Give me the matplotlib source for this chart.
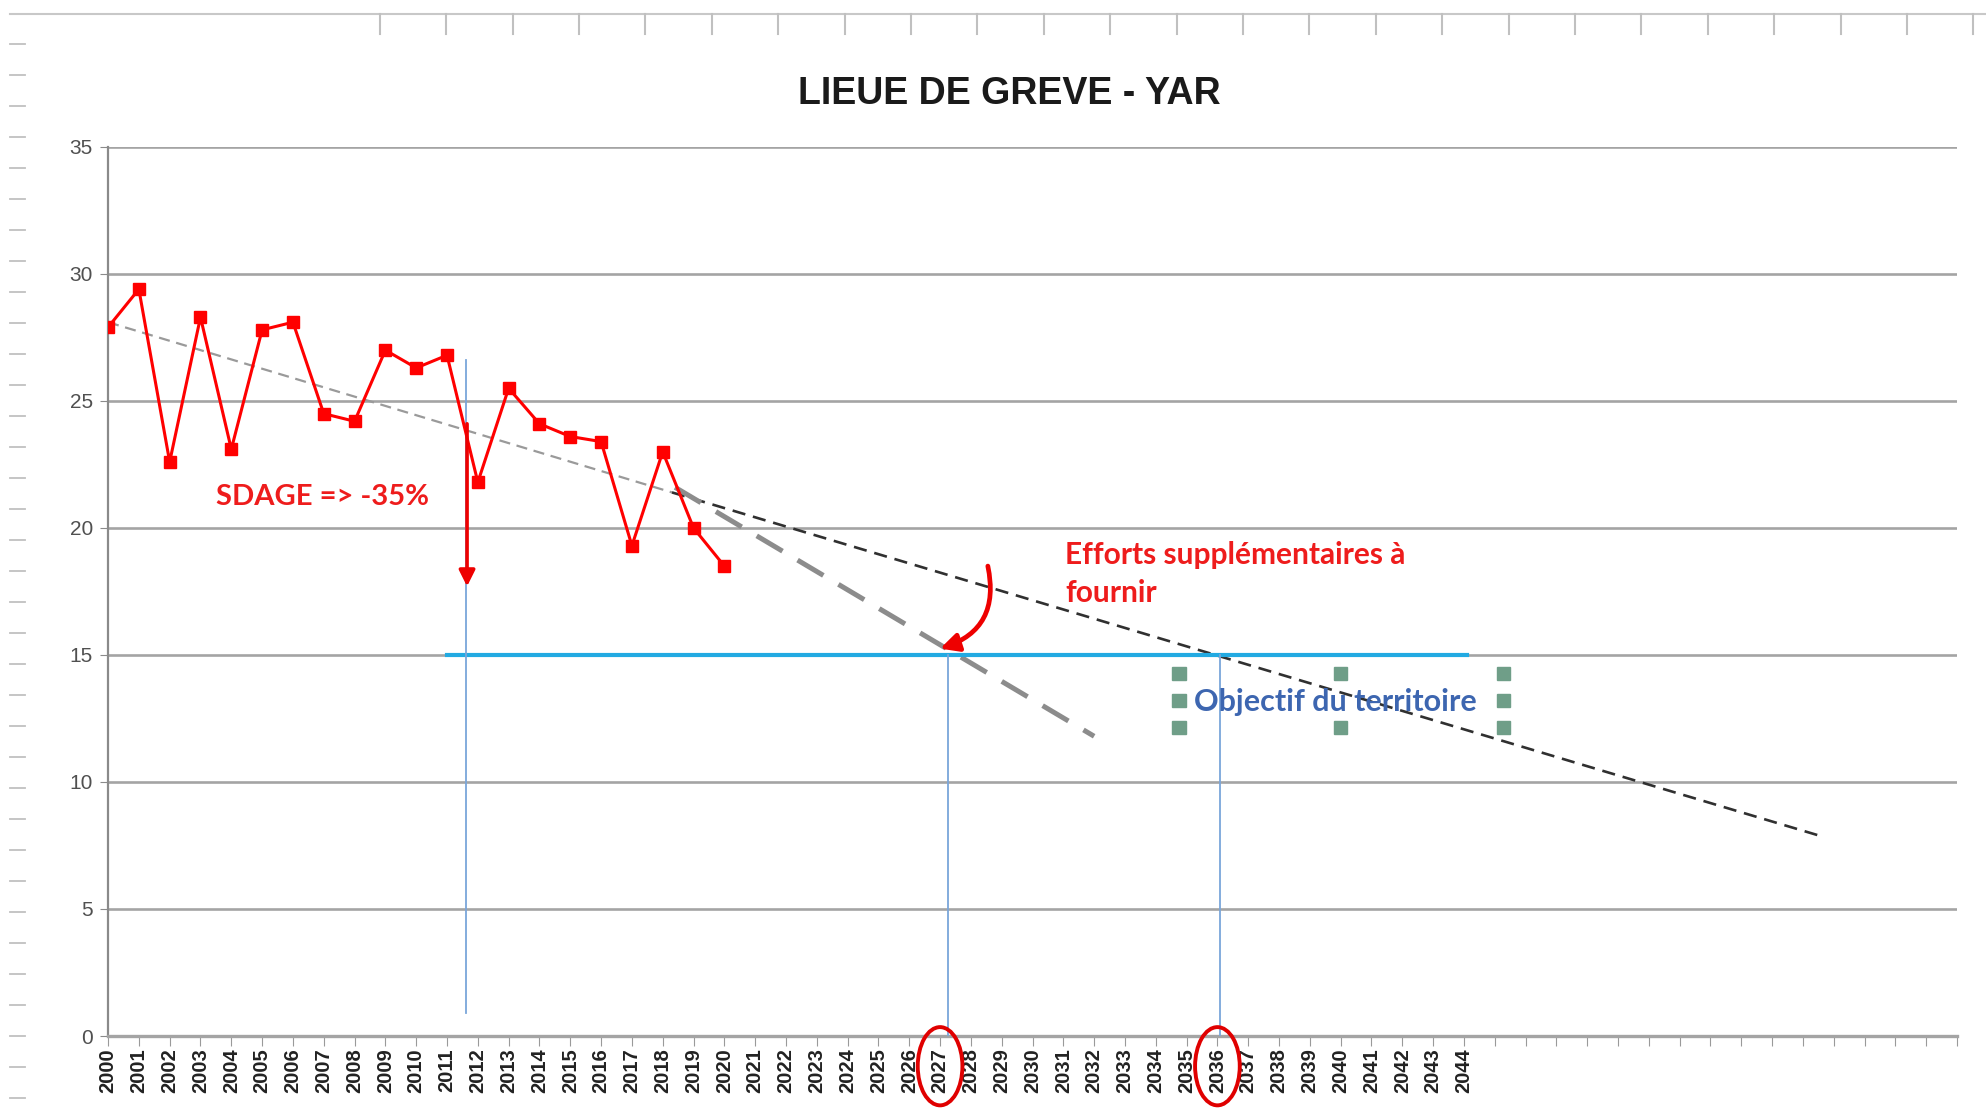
import numpy as np
import matplotlib.pyplot as plt
from matplotlib.patches import Ellipse, Rectangle
from matplotlib.lines import Line2D
from matplotlib.transforms import blended_transform_factory

# measured values (position index 0 = 2000)
years = list(range(2000, 2021))
values = [27.9, 29.4, 22.6, 28.3, 23.1, 27.8, 28.1, 24.5, 24.2, 27.0,
          26.3, 26.8, 21.8, 25.5, 24.1, 23.6, 23.4, 19.3, 23.0, 20.0, 18.5]
tick_labels = [str(y) for y in range(2000, 2045)]
n_slots = 60

trend_x = [0, 18.3, 55.5]
trend_y = [28.1, 21.4, 7.9]
steep_x = [18.4, 32.0]
steep_y = [21.6, 11.8]
target = 15
target_span = [11.0, 44.1]
drop_x = 11.65
drop_y = [24.1, 17.7]
vlines = [(11.6, 0.9, 26.6), (27.25, 0, 15), (36.1, 0, 15)]
circled = [27, 36]


def main():
    fig = plt.figure(figsize=(19.86, 11.2), dpi=100)
    ax = fig.add_axes([0.0544, 0.075, 0.9310, 0.7938])

    grid_c = '#a4a4a4'
    ax.set_xlim(0, n_slots)
    ax.set_ylim(0, 35)
    ax.set_yticks(range(0, 36, 5))
    ax.set_yticklabels([str(v) for v in range(0, 36, 5)], fontsize=15,
                       color='#505050', family='Liberation Sans')
    ax.set_xticks(range(0, n_slots + 1))
    labels = tick_labels + [''] * (n_slots + 1 - len(tick_labels))
    ax.set_xticklabels(labels, rotation=90, fontsize=14.5, fontweight='bold',
                       color='#222222', family='Liberation Sans')
    for v in range(5, 36, 5):
        ax.axhline(v, color=grid_c, lw=1.9, zorder=0)
    for s in ['top', 'right']:
        ax.spines[s].set_visible(False)
    ax.spines['left'].set_color('#8a8a8a')
    ax.spines['left'].set_linewidth(1.6)
    ax.spines['bottom'].set_color(grid_c)
    ax.spines['bottom'].set_linewidth(2.4)
    ax.tick_params(axis='y', length=6, color='#8a8a8a', pad=5)
    ax.tick_params(axis='x', length=7, color='#9a9a9a', pad=2)

    x = np.arange(len(values))

    # trend lines
    ax.plot(trend_x[:2], trend_y[:2], color='#9a9a9a', lw=1.6, dashes=(5, 3), zorder=2)
    ax.plot(trend_x[1:], trend_y[1:], color='#303030', lw=1.9, dashes=(5, 3), zorder=2)
    ax.plot(steep_x, steep_y, color='#8c8c8c', lw=3.6, dashes=(6, 3.5), zorder=2)

    # objective line and guides
    ax.plot(target_span, [target, target], color='#22aae2', lw=3.0, zorder=3)
    for vx, y0, y1 in vlines:
        ax.plot([vx, vx], [y0, y1], color='#7aa6da', lw=1.3, zorder=3)

    # measurements
    ax.plot(x, values, color='#ff0000', lw=2.2, marker='s', markersize=9,
            zorder=5)

    # arrows
    ax.annotate('', xy=(drop_x, drop_y[1]), xytext=(drop_x, drop_y[0]),
                arrowprops=dict(arrowstyle='-|>', color='#ee0000', lw=2.6,
                                mutation_scale=24, shrinkA=0, shrinkB=0), zorder=6)
    ax.annotate('', xy=(27.0, 15.25), xytext=(28.55, 18.5),
                arrowprops=dict(arrowstyle='-|>', color='#ee0000', lw=3.4,
                                mutation_scale=27, shrinkA=0, shrinkB=0,
                                connectionstyle='arc3,rad=-0.45'), zorder=6)

    # texts
    ann_font = ['Lato', 'DejaVu Sans']
    ax.text(3.5, 21.2, 'SDAGE => -35%', color='#ee1c1c', fontsize=21,
            fontweight='bold', family=ann_font, va='center', ha='left')
    ax.text(31.05, 18.95, 'Efforts supplémentaires à', color='#ee1c1c',
            fontsize=21.5, fontweight='bold', family=ann_font, va='center')
    ax.text(31.05, 17.45, 'fournir', color='#ee1c1c', fontsize=21.5,
            fontweight='bold', family=ann_font, va='center')
    ax.text(35.25, 13.15, 'Objectif du territoire', color='#3d66b0',
            fontsize=22, fontweight='bold', family=ann_font, va='center',
            zorder=7)

    # selection handles around the text box
    hx = [34.76, 40.0, 45.28]
    hy = [14.26, 13.21, 12.16]
    for i, px in enumerate(hx):
        for j, py in enumerate(hy):
            if i == 1 and j == 1:
                continue
            ax.add_patch(Rectangle((px - 0.22, py - 0.26), 0.44, 0.52,
                                   color='#6f9e88', zorder=6))

    # red circles around two year labels
    tr = blended_transform_factory(ax.transData, ax.transAxes)
    for cx in circled:
        ax.add_patch(Ellipse((cx, -0.034), 1.45, 0.088, transform=tr,
                             fill=False, ec='#e00000', lw=2.8, clip_on=False,
                             zorder=8))

    fig.text(0.508, 0.916, 'LIEUE DE GREVE - YAR', ha='center', va='center',
             fontsize=27, fontweight='bold', family='Liberation Sans',
             color='#1a1a1a')

    # sheet ruler remnants of the screenshot
    fig.add_artist(Line2D([0.005, 1.0], [0.9875, 0.9875], color='#c8c8c8', lw=1.5))
    for tx in np.arange(0.1913, 1.0, 0.03343):
        fig.add_artist(Line2D([tx, tx], [0.9875, 0.970], color='#c0c0c0', lw=1.5))
    for ty in np.arange(0.961, 0.0, -0.0277):
        fig.add_artist(Line2D([0.005, 0.0125], [ty, ty], color='#c0c0c0', lw=1.3))

    fig.savefig('out.png', dpi=100, facecolor='white')


if __name__ == '__main__':
    main()
